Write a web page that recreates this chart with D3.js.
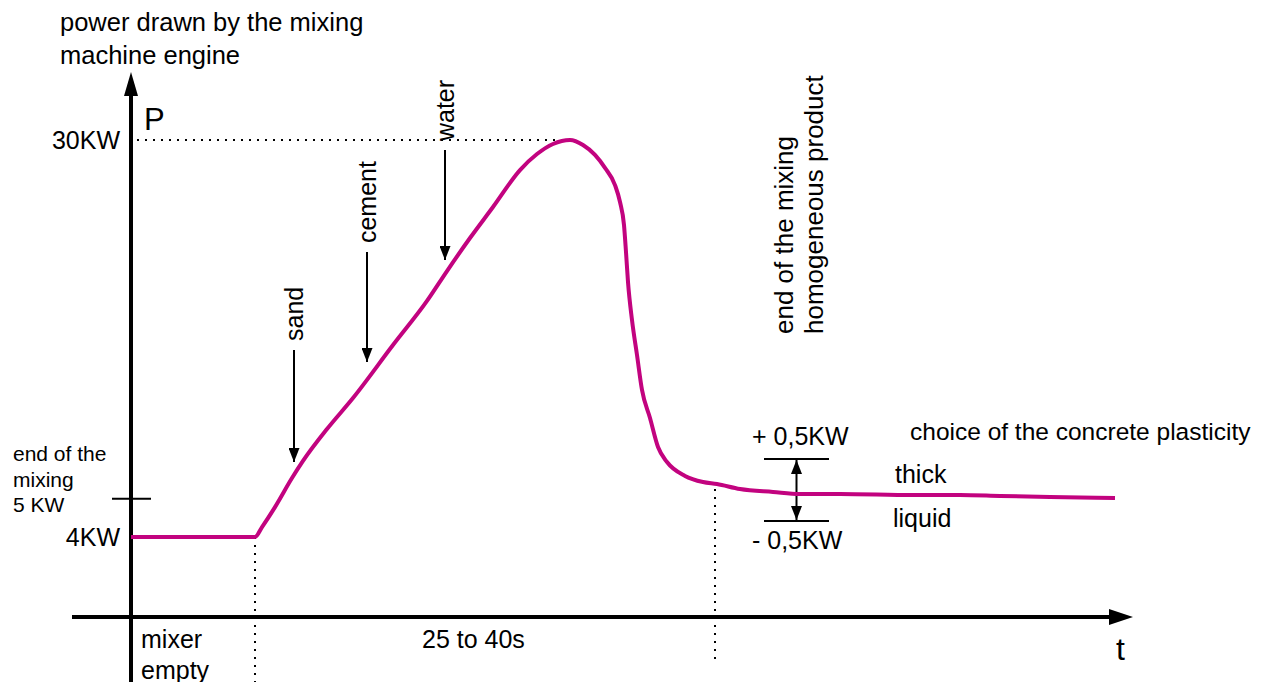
<!DOCTYPE html>
<html>
<head>
<meta charset="utf-8">
<script src="https://cdn.jsdelivr.net/npm/d3@7"></script>
<style>
  body { margin: 0; background: #fff; }
  text { font-family: "Liberation Sans", Arial, sans-serif; fill: #000; }
</style>
</head>
<body>
<script>
const width = 1261, height = 682;

// power curve, t in arbitrary time units, P in KW
const timeValues = [0, 124, 131, 144, 161, 172, 196, 222, 262, 296, 316, 339, 362, 389, 406, 422, 439,
  452, 464, 474, 484, 489, 493, 495, 497, 501, 506, 511, 519, 527, 536, 554, 572, 586, 609, 642, 669,
  709, 782, 829, 869, 919, 984];
const powerValues = [4.0, 4.0, 4.65, 5.96, 7.86, 8.98, 11.07, 13.1, 16.57, 19.46, 21.42, 23.58, 25.61, 28.03, 29.08, 29.74, 30.0,
  29.67, 29.02, 28.17, 27.05, 25.94, 24.43, 22.66, 20.7, 18.21, 15.92, 13.63, 11.79, 9.89, 8.91, 8.0, 7.6, 7.47, 7.14, 6.95, 6.82,
  6.82, 6.75, 6.75, 6.69, 6.62, 6.55];

// ingredient arrows
const ingredients = ["sand", "cement", "water"];
const ingredientTime = [163, 236, 314];
const ingredientTop = [16.25, 22.66, 29.34];
const ingredientBottom = [8.91, 15.46, 22.14];

// y tick labels
const tickValues = [30, 4];
const tickLabels = ["30KW", "4KW"];
const endMixValue = 6.5;

// plasticity band
const bandCenter = 7.08, bandHalf = 2.03;
const bandStart = 633, bandEnd = 698;

const startTime = 124, endTime = 584;

const x = d3.scaleLinear().domain([0, 1000]).range([131, 1131]);
const y = d3.scaleLinear().domain([4, 30]).range([537, 140]);

const axisY = 617;
const curveColor = "#c2037f";

const svg = d3.select("body").append("svg")
  .attr("width", width)
  .attr("height", height);

const defs = svg.append("defs");
defs.append("marker")
  .attr("id", "head")
  .attr("viewBox", "0 0 14 11")
  .attr("refX", 14).attr("refY", 5.5)
  .attr("markerWidth", 14).attr("markerHeight", 11)
  .attr("markerUnits", "userSpaceOnUse")
  .attr("orient", "auto-start-reverse")
  .append("path")
  .attr("d", "M0,0L14,5.5L0,11Z")
  .attr("fill", "#000");

// dotted guides
const dotted = svg.append("g")
  .attr("stroke", "#000")
  .attr("stroke-width", 2)
  .attr("stroke-dasharray", "2,6")
  .attr("fill", "none");

dotted.append("line")
  .attr("x1", x(0) + 6).attr("x2", x(439))
  .attr("y1", y(30)).attr("y2", y(30));
dotted.append("line")
  .attr("x1", x(startTime)).attr("x2", x(startTime))
  .attr("y1", y(4)).attr("y2", height);
dotted.append("line")
  .attr("x1", x(endTime)).attr("x2", x(endTime))
  .attr("y1", y(7.14)).attr("y2", 665);

// axes
svg.append("line")
  .attr("x1", x(0)).attr("x2", x(0))
  .attr("y1", height).attr("y2", 90)
  .attr("stroke", "#000").attr("stroke-width", 4);
svg.append("path")
  .attr("d", `M${x(0)},72L${x(0) - 7},96L${x(0) + 7},96Z`)
  .attr("fill", "#000");

svg.append("line")
  .attr("x1", 72).attr("x2", 1115)
  .attr("y1", axisY).attr("y2", axisY)
  .attr("stroke", "#000").attr("stroke-width", 4);
svg.append("path")
  .attr("d", `M1133,${axisY}L1109,${axisY - 8}L1109,${axisY + 8}Z`)
  .attr("fill", "#000");

// end of mixing tick
svg.append("line")
  .attr("x1", x(0) - 19).attr("x2", x(0) + 20)
  .attr("y1", y(endMixValue)).attr("y2", y(endMixValue))
  .attr("stroke", "#000").attr("stroke-width", 2);

// y labels
svg.append("g").selectAll("text")
  .data(tickValues)
  .join("text")
  .attr("x", x(0) - 11)
  .attr("y", d => y(d))
  .attr("dy", "0.36em")
  .attr("text-anchor", "end")
  .attr("font-size", 25)
  .text((d, i) => tickLabels[i]);

svg.append("text")
  .attr("x", 60).attr("y", 31)
  .attr("font-size", 25.5)
  .selectAll("tspan")
  .data(["power drawn by the mixing", "machine engine"])
  .join("tspan")
  .attr("x", 60)
  .attr("dy", (d, i) => i ? 33 : 0)
  .text(d => d);

svg.append("text")
  .attr("x", 144).attr("y", 130)
  .attr("font-size", 31)
  .text("P");

svg.append("text")
  .attr("x", 13).attr("y", 461)
  .attr("font-size", 21)
  .selectAll("tspan")
  .data(["end of the", "mixing", "5 KW"])
  .join("tspan")
  .attr("x", 13)
  .attr("dy", (d, i) => i ? 25.5 : 0)
  .text(d => d);

// x labels
svg.append("text")
  .attr("x", 141).attr("y", 648)
  .attr("font-size", 25)
  .selectAll("tspan")
  .data(["mixer", "empty"])
  .join("tspan")
  .attr("x", 141)
  .attr("dy", (d, i) => i ? 31 : 0)
  .text(d => d);

svg.append("text")
  .attr("x", 422).attr("y", 648)
  .attr("font-size", 25)
  .text("25 to 40s");

svg.append("text")
  .attr("x", 1116).attr("y", 660)
  .attr("font-size", 32)
  .text("t");

// ingredient arrows
const ing = svg.append("g").selectAll("g")
  .data(ingredients)
  .join("g");

ing.append("line")
  .attr("x1", (d, i) => x(ingredientTime[i]))
  .attr("x2", (d, i) => x(ingredientTime[i]))
  .attr("y1", (d, i) => y(ingredientTop[i]))
  .attr("y2", (d, i) => y(ingredientBottom[i]))
  .attr("stroke", "#000").attr("stroke-width", 2)
  .attr("marker-end", "url(#head)");

ing.append("text")
  .attr("transform", (d, i) => `translate(${x(ingredientTime[i])},${y(ingredientTop[i]) - 9}) rotate(-90)`)
  .attr("dy", "0.34em")
  .attr("font-size", 25)
  .text(d => d);

// end of mixing labels
svg.append("g").selectAll("text")
  .data(["end of the mixing", "homogeneous product"])
  .join("text")
  .attr("transform", (d, i) => `translate(${793 + i * 30},334) rotate(-90)`)
  .attr("font-size", 26)
  .text(d => d);

// plasticity band
const band = svg.append("g").attr("stroke", "#000").attr("stroke-width", 2);
[bandCenter + bandHalf, bandCenter - bandHalf].forEach(v => {
  band.append("line")
    .attr("x1", x(bandStart)).attr("x2", x(bandEnd))
    .attr("y1", y(v)).attr("y2", y(v));
});
band.append("line")
  .attr("x1", x((bandStart + bandEnd) / 2)).attr("x2", x((bandStart + bandEnd) / 2))
  .attr("y1", y(bandCenter + bandHalf) + 1).attr("y2", y(bandCenter - bandHalf) - 1)
  .attr("marker-start", "url(#head)")
  .attr("marker-end", "url(#head)");

svg.append("text").attr("x", 752).attr("y", 445).attr("font-size", 25).text("+ 0,5KW");
svg.append("text").attr("x", 752).attr("y", 549).attr("font-size", 25).text("- 0,5KW");
svg.append("text").attr("x", 895).attr("y", 483).attr("font-size", 25).text("thick");
svg.append("text").attr("x", 893).attr("y", 527).attr("font-size", 25).text("liquid");
svg.append("text").attr("x", 910).attr("y", 440).attr("font-size", 24.5).text("choice of the concrete plasticity");

// power curve
const line = d3.line()
  .x(d => x(d[0]))
  .y(d => y(d[1]))
  .curve(d3.curveMonotoneX);

svg.append("path")
  .datum(timeValues.map((t, i) => [t, powerValues[i]]))
  .attr("d", line)
  .attr("fill", "none")
  .attr("stroke", curveColor)
  .attr("stroke-width", 4)
  .attr("stroke-linejoin", "round");
</script>
</body>
</html>
